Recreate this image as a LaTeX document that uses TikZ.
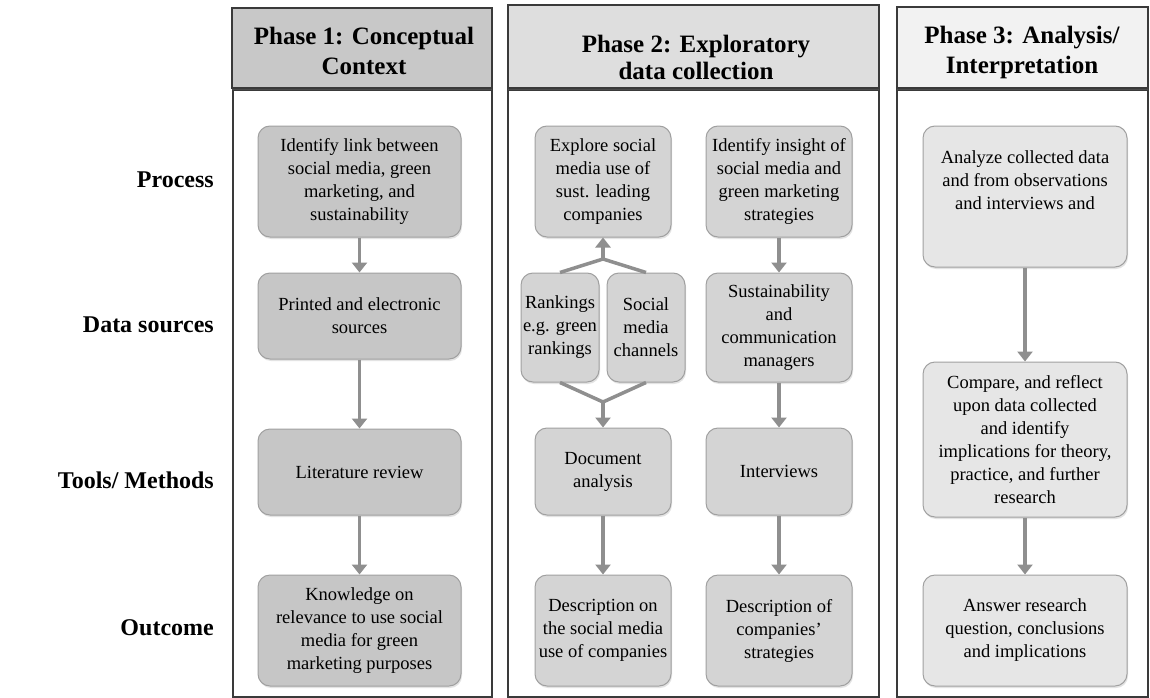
\documentclass[tikz,border=0pt]{standalone}
\usepackage{fontspec}
\setmainfont{Liberation Serif}
\usetikzlibrary{arrows.meta,shadows}
\definecolor{hdrA}{HTML}{C8C8C8}
\definecolor{hdrB}{HTML}{DEDEDE}
\definecolor{hdrC}{HTML}{F2F2F2}
\definecolor{boxA}{HTML}{C6C6C6}
\definecolor{boxB}{HTML}{D4D4D4}
\definecolor{boxC}{HTML}{E6E6E6}
\definecolor{edgeG}{HTML}{A0A0A0}
\definecolor{arrG}{HTML}{8F8F8F}
\definecolor{frameG}{HTML}{3A3A3A}
\newcommand\mybox[7]{\node[#2, minimum width={#5-#3}, minimum height={#6-#4}] (#1) at ({(#3+#5)/2},{(#4+#6)/2}) {#7};}
\begin{document}
\begin{tikzpicture}[x=1pt,y=-1pt,
  hdr/.style={draw=frameG, line width=1.5pt, inner sep=0pt,
    drop shadow={shadow xshift=0pt, shadow yshift=-2pt, opacity=0.25}},
  hdrtxt/.style={align=center, inner sep=0pt, font=\fontsize{25}{30}\selectfont\bfseries},
  frm/.style={draw=frameG, line width=1.3pt, fill=white, inner sep=0pt},
  bx/.style={draw=edgeG, line width=1pt, rounded corners=12pt, align=center, inner sep=0pt,
    font=\fontsize{18.5}{23}\selectfont,
    drop shadow={shadow xshift=1pt, shadow yshift=-2pt, opacity=0.22}},
  bxA/.style={bx, fill=boxA},
  bxB/.style={bx, fill=boxB},
  bxC/.style={bx, fill=boxC},
  lbl/.style={font=\fontsize{24}{29}\selectfont\bfseries, anchor=east, inner sep=0pt},
  arr/.style={draw=arrG, line width=3.5pt, -{Triangle[width=15pt,length=10pt]}},
  ln/.style={draw=arrG, line width=3.5pt}
]
\useasboundingbox (0,0) rectangle (1150,698);

% frames
\mybox{f1}{frm}{233}{90}{492}{697}{}
\mybox{f2}{frm}{508}{90}{879}{697}{}
\mybox{f3}{frm}{897}{90}{1148}{697}{}

% headers
\mybox{h1}{hdr, fill=hdrA}{232}{8}{492}{88}{}
\mybox{h2}{hdr, fill=hdrB}{508}{5}{879}{88}{}
\mybox{h3}{hdr, fill=hdrC}{897}{7}{1148}{88}{}
\node[hdrtxt] (t1) at (364,51) {Phase 1: Conceptual\\Context};
\node[hdrtxt] (t2) at (696,57) {Phase 2: Exploratory\\[-3pt]data collection};
\node[hdrtxt] (t3) at (1022,52) {Phase 3: Analysis/\\Interpretation};

% row labels
\node[lbl] (l1) at (214,180) {Process};
\node[lbl] (l2) at (214,325) {Data sources};
\node[lbl] (l3) at (214,480) {Tools/ Methods};
\node[lbl] (l4) at (214,628) {Outcome};

% column 1
\mybox{a1}{bxA}{258}{126}{461}{237}{Identify link between\\social media, green\\marketing, and\\sustainability}
\mybox{a2}{bxA}{258}{273}{461}{359}{Printed and electronic\\sources}
\mybox{a3}{bxA}{258}{429}{461}{515}{Literature review}
\mybox{a4}{bxA}{258}{575}{461}{686}{Knowledge on\\relevance to use social\\media for green\\marketing purposes}

% column 2
\mybox{b1}{bxB}{535}{126}{671}{237}{Explore social\\media use of\\sust. leading\\companies}
\mybox{c1}{bxB}{706}{126}{852}{237}{Identify insight of\\social media and\\green marketing\\strategies}
\mybox{r1}{bxB}{521}{273}{599}{382}{Rankings\\e.g. green\\rankings}
\mybox{r2}{bxB}{607}{273}{685}{382}{Social\\media\\channels}
\mybox{c2}{bxB}{706}{273}{852}{382}{Sustainability\\and\\communication\\managers}
\mybox{b3}{bxB}{535}{428}{671}{515}{Document\\analysis}
\mybox{c3}{bxB}{706}{428}{852}{515}{Interviews}
\mybox{b4}{bxB}{535}{575}{671}{686}{Description on\\the social media\\use of companies}
\mybox{c4}{bxB}{706}{575}{852}{686}{Description of\\companies’\\strategies}

% column 3
\mybox{d1}{bxC}{923}{126}{1127}{267}{Analyze collected data\\and from observations\\and interviews and\\[10pt]}
\mybox{d2}{bxC}{923}{362}{1127}{517}{Compare, and reflect\\upon data collected\\and identify\\implications for theory,\\practice, and further\\research}
\mybox{d3}{bxC}{923}{575}{1127}{686}{Answer research\\question, conclusions\\and implications}

% connectors column 1
\draw[arr] (a1.south) -- (a2.north);
\draw[arr] (a2.south) -- (a3.north);
\draw[arr] (a3.south) -- (a4.north);

% connectors column 2
\coordinate (jt) at (603,259);
\coordinate (jb) at (603,402);
\draw[ln, line join=round] (r1.north) -- (jt) -- (r2.north);
\draw[arr] (jt) -- (b1.south);
\draw[ln, line join=round] (r1.south) -- (jb) -- (r2.south);
\draw[arr] (jb) -- (b3.north);
\draw[arr] (b3.south) -- (b4.north);
\draw[arr] (c1.south) -- (c2.north);
\draw[arr] (c2.south) -- (c3.north);
\draw[arr] (c3.south) -- (c4.north);

% connectors column 3
\draw[arr] (d1.south) -- (d2.north);
\draw[arr] (d2.south) -- (d3.north);
\end{tikzpicture}
\end{document}
